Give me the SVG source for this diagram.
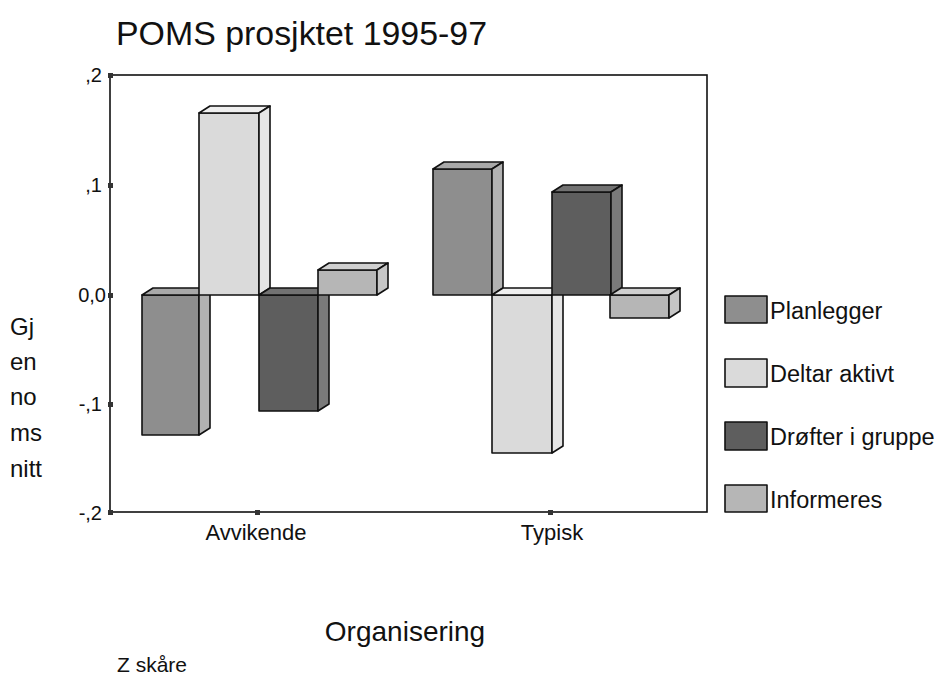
<svg xmlns="http://www.w3.org/2000/svg" width="939" height="677" viewBox="0 0 939 677">
<style>
text{font-family:"Liberation Sans",Arial,sans-serif;fill:#111}
.t{font-size:34px}
.ax{font-size:20px}
.yl{font-size:24px}
.cat{font-size:22px}
.lg{font-size:23.5px}
.xt{font-size:28px}
.ft{font-size:21px}
.b{stroke:#111;stroke-width:1.6;stroke-linejoin:round}
.p .f{fill:#8e8e8e}.p .tp{fill:#a9a9a9}.p .s{fill:#b2b2b2}
.d .f{fill:#dadada}.d .tp{fill:#efefef}.d .s{fill:#e6e6e6}
.r .f{fill:#5e5e5e}.r .tp{fill:#727272}.r .s{fill:#7a7a7a}
.i .f{fill:#b6b6b6}.i .tp{fill:#d0d0d0}.i .s{fill:#c6c6c6}
.tick{fill:#333}
</style>
<rect width="939" height="677" fill="#fff"/>
<text class="t" x="116" y="45" textLength="371" lengthAdjust="spacingAndGlyphs">POMS prosjktet 1995-97</text>
<g id="axes">
<rect x="110" y="75" width="597" height="437" fill="none" stroke="#111" stroke-width="1.6"/>
<rect class="tick" x="108" y="73" width="5" height="5"/>
<rect class="tick" x="108" y="183" width="5" height="5"/>
<rect class="tick" x="108" y="293" width="5" height="5"/>
<rect class="tick" x="108" y="402" width="5" height="5"/>
<rect class="tick" x="108" y="510" width="5" height="5"/>
<rect class="tick" x="255" y="510" width="5" height="5"/>
<rect class="tick" x="548" y="510" width="5" height="5"/>
<text class="ax" x="102" y="82" text-anchor="end">,2</text>
<text class="ax" x="102" y="192" text-anchor="end">,1</text>
<text class="ax" x="106" y="302" text-anchor="end">0,0</text>
<text class="ax" x="102" y="411" text-anchor="end">-,1</text>
<text class="ax" x="102" y="520" text-anchor="end">-,2</text>
<text class="yl" x="10" y="335">Gj</text>
<text class="yl" x="10" y="370">en</text>
<text class="yl" x="10" y="405">no</text>
<text class="yl" x="10" y="441">ms</text>
<text class="yl" x="10" y="477">nitt</text>
<text class="cat" x="256" y="540" text-anchor="middle">Avvikende</text>
<text class="cat" x="552" y="540" text-anchor="middle">Typisk</text>
<text class="xt" x="405" y="641" text-anchor="middle">Organisering</text>
<text class="ft" x="117" y="672">Z skåre</text>
</g>
<g id="connectors"></g>
<g id="bar-avv-planlegger" class="p">
<rect class="b f" x="142" y="295" width="57" height="140"/>
<polygon class="b tp" points="142,295 153,288 210,288 199,295"/>
<polygon class="b s" points="199,295 210,288 210,428 199,435"/>
</g>
<g id="bar-avv-deltar" class="d">
<rect class="b f" x="199" y="113" width="60" height="182"/>
<polygon class="b tp" points="199,113 210,106 270,106 259,113"/>
<polygon class="b s" points="259,113 270,106 270,288 259,295"/>
</g>
<g id="bar-avv-drofter" class="r">
<rect class="b f" x="259" y="295" width="59" height="116"/>
<polygon class="b tp" points="259,295 270,288 329,288 318,295"/>
<polygon class="b s" points="318,295 329,288 329,404 318,411"/>
</g>
<g id="bar-avv-informeres" class="i">
<rect class="b f" x="318" y="270" width="59" height="25"/>
<polygon class="b tp" points="318,270 329,263 388,263 377,270"/>
<polygon class="b s" points="377,270 388,263 388,288 377,295"/>
</g>
<g id="bar-typ-planlegger" class="p">
<rect class="b f" x="433" y="169" width="59" height="126"/>
<polygon class="b tp" points="433,169 444,162 503,162 492,169"/>
<polygon class="b s" points="492,169 503,162 503,288 492,295"/>
</g>
<g id="bar-typ-deltar" class="d">
<rect class="b f" x="492" y="295" width="60" height="158"/>
<polygon class="b tp" points="492,295 503,288 563,288 552,295"/>
<polygon class="b s" points="552,295 563,288 563,446 552,453"/>
</g>
<g id="bar-typ-drofter" class="r">
<rect class="b f" x="552" y="192" width="59" height="103"/>
<polygon class="b tp" points="552,192 563,185 622,185 611,192"/>
<polygon class="b s" points="611,192 622,185 622,288 611,295"/>
</g>
<g id="bar-typ-informeres" class="i">
<rect class="b f" x="610" y="295" width="59" height="23"/>
<polygon class="b tp" points="610,295 621,288 680,288 669,295"/>
<polygon class="b s" points="669,295 680,288 680,311 669,318"/>
</g>
<g id="legend-planlegger" class="p">
<rect class="b f" x="725" y="296" width="42" height="27"/>
<text class="lg" x="770" y="319">Planlegger</text>
</g>
<g id="legend-deltar" class="d">
<rect class="b f" x="725" y="359" width="42" height="28"/>
<text class="lg" x="770" y="382">Deltar aktivt</text>
</g>
<g id="legend-drofter" class="r">
<rect class="b f" x="725" y="422" width="42" height="28"/>
<text class="lg" x="770" y="445">Drøfter i gruppe</text>
</g>
<g id="legend-informeres" class="i">
<rect class="b f" x="725" y="485" width="42" height="27"/>
<text class="lg" x="770" y="508">Informeres</text>
</g>
</svg>
